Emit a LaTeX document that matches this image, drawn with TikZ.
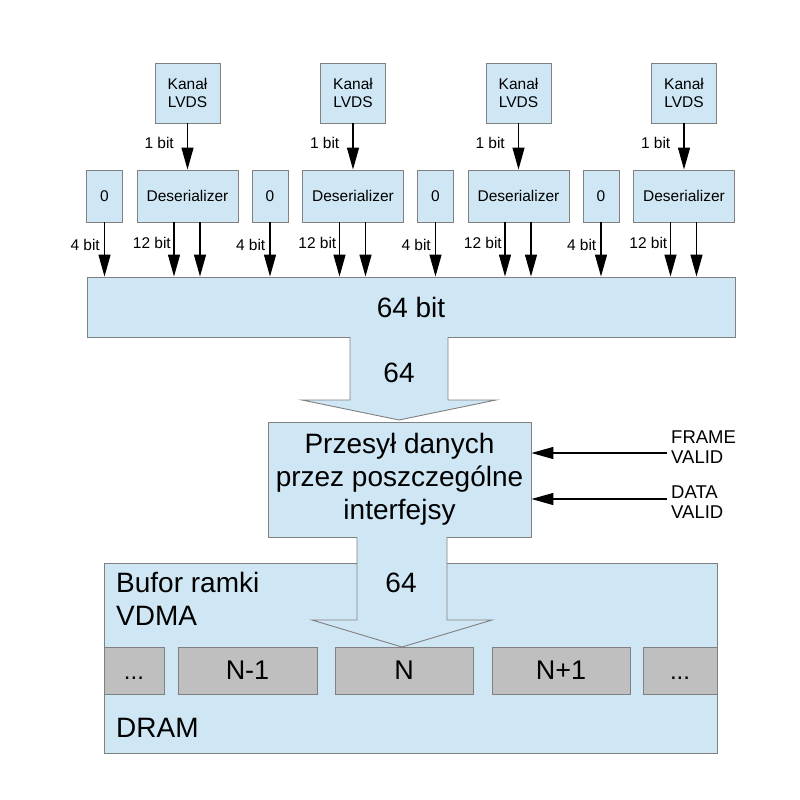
\documentclass[tikz,border=0pt]{standalone}
\usepackage{fontspec}
\setmainfont{Liberation Sans}
\usetikzlibrary{arrows.meta,calc}
\definecolor{lblue}{HTML}{CFE7F5}
\definecolor{bord}{HTML}{808080}
\definecolor{cellg}{HTML}{BFBFBF}
\begin{document}
\begin{tikzpicture}[x=1pt,y=-1pt,
  box/.style={draw=bord, fill=lblue, line width=0.9pt, inner sep=0pt, align=center},
  cell/.style={draw=bord, fill=cellg, line width=0.9pt, inner sep=0pt, minimum height=47pt, font=\fontsize{27}{30}\selectfont},
  arr/.style={line width=1.3pt, -{Triangle[length=22pt,width=12pt]}},
  small/.style={font=\fontsize{15.5}{18}\selectfont},
  lbl/.style={font=\fontsize{15.5}{18}\selectfont, inner sep=0pt, anchor=east},
  big/.style={font=\fontsize{28}{33}\selectfont},
  sig/.style={font=\fontsize{18.5}{20}\selectfont, inner sep=0pt, anchor=west, align=left},
  block/.style={draw=bord, fill=lblue, line width=0.9pt, line join=miter}]
\useasboundingbox (0,0) rectangle (800,800);

% bus
\node[box, big, minimum width=648pt, minimum height=60pt] (bus) at (411,307) {64 bit};

\foreach \i in {0,...,3} {
  \pgfmathsetmacro\dx{165.5*\i}
  \node[box, small, minimum width=65pt, minimum height=60pt] (k\i) at (187.5+\dx,93) {Kanał\\LVDS};
  \node[box, small, minimum width=101pt, minimum height=52pt] (d\i) at (187.5+\dx,196) {Deserializer};
  \node[box, small, minimum width=36pt, minimum height=52pt] (z\i) at (104.5+\dx,196) {0};
  \draw[arr] (k\i) -- (d\i);
  \node[lbl] (l1\i) at (174+\dx,143) {1 bit};
  \draw[arr] (z\i.south) -- (z\i.south |- bus.north);
  \node[lbl] (l4\i) at (100+\dx,245) {4 bit};
  \coordinate (da\i) at ($(d\i.south)+(-13.5,0)$);
  \coordinate (db\i) at ($(d\i.south)+(12.5,0)$);
  \draw[arr] (da\i) -- (da\i |- bus.north);
  \draw[arr] (db\i) -- (db\i |- bus.north);
  \node[lbl] (l12\i) at (171+\dx,243) {12 bit};
}

% block arrow 1
\draw[block] (350,337) -- (350,400) -- (302,400) -- (399,420) -- (496,400) -- (448,400) -- (448,337);
\node[big, inner sep=0pt] (n64a) at (399,373) {64};

% processing box
\node[box, big, minimum width=263pt, minimum height=115pt] (prz) at (399.5,479.5) {Przesył danych\\przez poszczególne\\interfejsy};

% signals
\node[sig] (fv) at (671,447) {FRAME\\VALID};
\node[sig] (dv) at (671,502) {DATA\\VALID};
\coordinate (fvs) at (667,453);
\coordinate (dvs) at (667,499);
\draw[arr] (fvs) -- (fvs -| prz.east);
\draw[arr] (dvs) -- (dvs -| prz.east);

% DRAM
\node[box, minimum width=613pt, minimum height=190pt] (dram) at (410.5,658) {};
\node[big, anchor=west, align=left, inner sep=0pt] (buf) at (116,599) {Bufor ramki\\VDMA};
\node[big, anchor=west, inner sep=0pt] (dr) at (116,728) {DRAM};

\node[cell, minimum width=60pt] (c1) at (134,670.5) {\vphantom{N}{\fontsize{24}{28}\selectfont ...}};
\node[cell, minimum width=139pt] (c2) at (247.5,670.5) {N-1};
\node[cell, minimum width=138pt] (c3) at (404,670.5) {N};
\node[cell, minimum width=138pt] (c4) at (561,670.5) {N+1};
\node[cell, minimum width=74pt] (c5) at (680,670.5) {\vphantom{N}{\fontsize{24}{28}\selectfont ...}};

% block arrow 2
\draw[block] (357,537) -- (357,620) -- (312,620) -- (402,647) -- (492,620) -- (447,620) -- (447,537);
\node[big, inner sep=0pt] (n64b) at (401,583) {64};
\end{tikzpicture}
\end{document}
